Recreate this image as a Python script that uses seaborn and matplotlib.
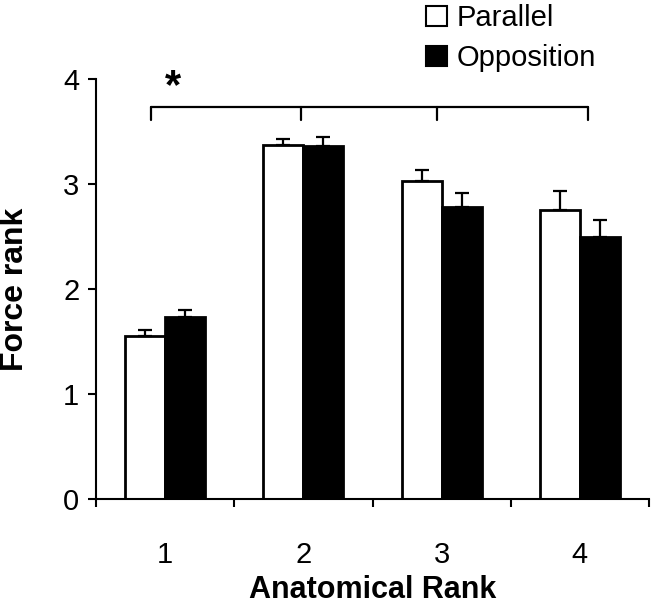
import numpy as np
import pandas as pd
import matplotlib.pyplot as plt
import seaborn as sns
from matplotlib.patches import Patch
from matplotlib.ticker import FixedLocator

# valores
ranks = ['1', '2', '3', '4']
parallel = [1.55, 3.37, 3.03, 2.75]
opposition = [1.73, 3.36, 2.78, 2.50]
parallel_err = [0.06, 0.06, 0.10, 0.18]
opposition_err = [0.07, 0.09, 0.13, 0.16]
grupos = ['Parallel', 'Opposition']

df = pd.DataFrame({
    'rank': ranks * 2,
    'force': parallel + opposition,
    'cond': ['Parallel'] * 4 + ['Opposition'] * 4,
})

sns.set_style('ticks')
plt.rcParams['font.family'] = ['Liberation Sans', 'DejaVu Sans']
plt.rcParams['text.color'] = 'black'
plt.rcParams['axes.labelcolor'] = 'black'
plt.rcParams['xtick.color'] = 'black'
plt.rcParams['ytick.color'] = 'black'

fig = plt.figure(figsize=(6.51, 6.05), dpi=100)
ax = fig.add_axes([96 / 651, 1 - 499 / 605, 553 / 651, 420 / 605])

sns.barplot(data=df, x='rank', y='force', hue='cond', hue_order=grupos,
            palette=['white', 'black'], edgecolor='black', linewidth=2,
            width=0.58, legend=False, ax=ax, saturation=1)

# barras de erro (só para cima)
for cont, err in zip(ax.containers, [parallel_err, opposition_err]):
    xs = [p.get_x() + p.get_width() / 2 for p in cont.patches]
    ys = [p.get_height() for p in cont.patches]
    ax.errorbar(xs, ys, yerr=[np.zeros(len(err)), err], fmt='none',
                ecolor='black', elinewidth=1.6, capsize=5, capthick=1.6,
                zorder=5)

ax.set_xlim(-0.5, 3.5)
ax.set_ylim(0, 4)
ax.set_yticks([0, 1, 2, 3, 4])
ax.tick_params(axis='y', labelsize=21, length=6, width=1.5, pad=6)
ax.tick_params(axis='x', which='major', labelsize=21, length=0, pad=30)
ax.xaxis.set_minor_locator(FixedLocator([-0.5, 0.5, 1.5, 2.5, 3.5]))
ax.tick_params(axis='x', which='minor', length=6, width=1.5)
sns.despine(ax=ax)
for s in ['left', 'bottom']:
    ax.spines[s].set_linewidth(1.5)
    ax.spines[s].set_color('black')

ax.set_xlabel('Anatomical Rank', fontsize=22, fontweight='bold')
ax.xaxis.set_label_coords(0.5, -0.180)
ax.set_ylabel('Force rank', fontsize=23, fontweight='bold', labelpad=24)

# colchete de significância
bx = [-0.10, 0.98, 1.97, 3.06]
ax.plot([bx[0], bx[-1]], [3.73, 3.73], color='black', lw=1.6, clip_on=False)
for x in bx:
    ax.plot([x, x], [3.73, 3.61], color='black', lw=1.6, clip_on=False)
ax.text(0.06, 3.92, '*', fontsize=30, fontweight='bold', ha='center',
        va='center', clip_on=False)

handles = [Patch(facecolor='white', edgecolor='black', linewidth=1.5),
           Patch(facecolor='black', edgecolor='black', linewidth=1.5)]
fig.legend(handles, grupos, loc='upper left', bbox_to_anchor=(400 / 651, 1.036),
           frameon=False, fontsize=21, handlelength=0.7, handleheight=0.7,
           handletextpad=0.35, labelspacing=0.4)

plt.savefig('out.png', dpi=100)
